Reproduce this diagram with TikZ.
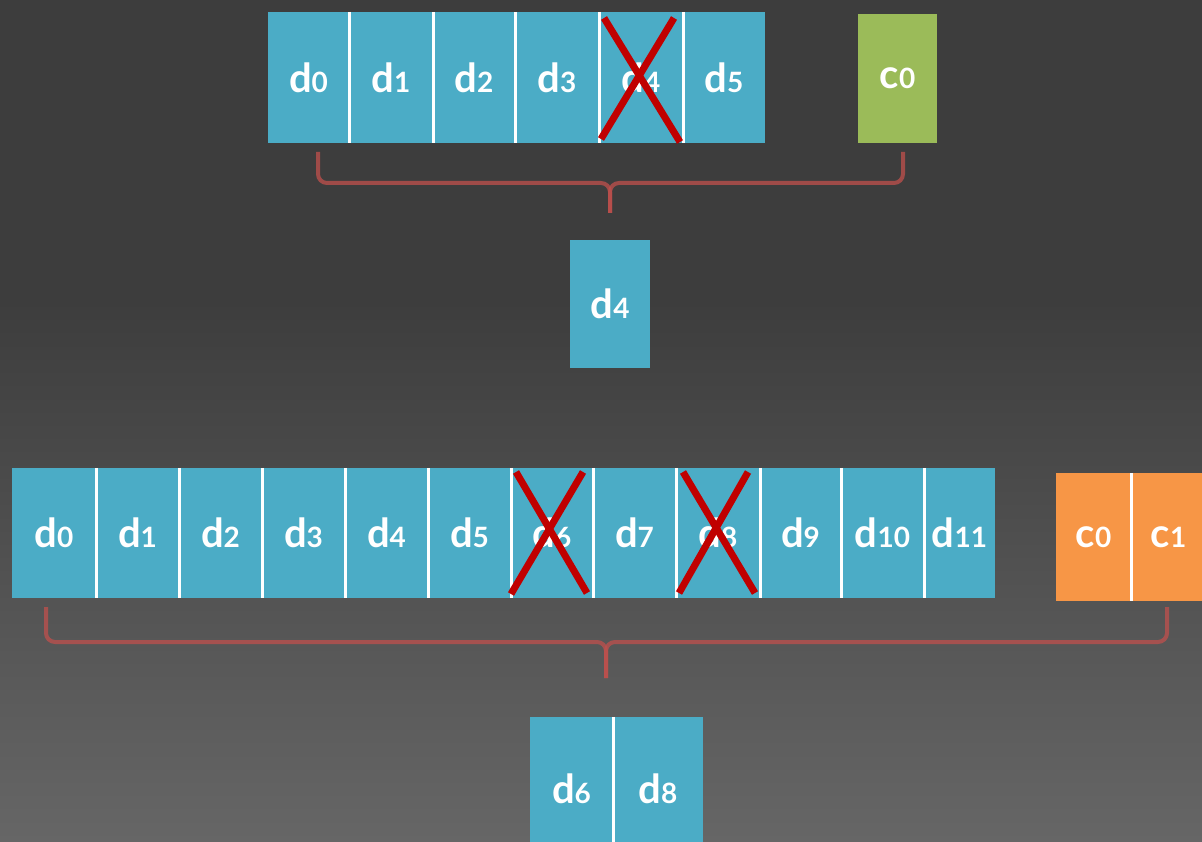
\documentclass[tikz,border=0pt]{standalone}
\usepackage{fontspec}
\newfontfamily\cellfont{Lato}
\usetikzlibrary{calc}

\definecolor{cellblue}{HTML}{4BACC6}
\definecolor{cellgreen}{HTML}{9BBB59}
\definecolor{cellorange}{HTML}{F79646}
\definecolor{crossred}{HTML}{C00000}
\definecolor{bracered}{HTML}{C0504D}
\definecolor{bgtop}{HTML}{3D3D3D}
\definecolor{bgbot}{HTML}{666666}

% a block label: a letter followed by a smaller index on the same baseline
\newcommand{\blk}[2]{#1{\fontsize{28}{28}\selectfont #2}}

\tikzset{
  cell/.style={rectangle, inner sep=0pt, text=white,
    font=\cellfont\bfseries\fontsize{40}{40}\selectfont},
  datacell/.style={cell, fill=cellblue},
  divider/.style={draw=white, line width=3pt},
  crossline/.style={draw=crossred, line width=7pt},
  brace/.style={draw=bracered, draw opacity=0.75, line width=4pt, rounded corners=9pt},
}

\begin{document}
\begin{tikzpicture}[x=1pt, y=-1pt]
  \useasboundingbox (0,0) rectangle (1202,842);
  \clip (0,0) rectangle (1202,842);

  % background
  \fill[bgtop] (0,0) rectangle (1202,842);
  \shade[top color=bgtop, bottom color=bgbot] (0,300) rectangle (1202,842);

  % ---- first stripe: six data blocks and one parity block
  \begin{scope}[every node/.append style={minimum height=131pt}]
    \node[datacell, minimum width=81pt] (t0) at (308.5,77.5) {\blk{d}{0}};
    \node[datacell, minimum width=84pt] (t1) at (391,77.5) {\blk{d}{1}};
    \node[datacell, minimum width=82pt] (t2) at (474,77.5) {\blk{d}{2}};
    \node[datacell, minimum width=84pt] (t3) at (557,77.5) {\blk{d}{3}};
    \node[datacell, minimum width=84pt] (t4) at (641,77.5) {\blk{d}{4}};
    \node[datacell, minimum width=82pt] (t5) at (724,77.5) {\blk{d}{5}};
  \end{scope}
  \foreach \n in {t0,t1,t2,t3,t4}
    \draw[divider] (\n.north east) -- (\n.south east);
  \node[cell, fill=cellgreen, minimum width=79pt, minimum height=129pt] (tc0) at (897.5,78.5) {\blk{c}{0}};

  % lost block
  \draw[crossline] (604,18) -- (680,142);
  \draw[crossline] (674,18) -- (601,139);

  % brace gathering the survivors
  \coordinate (tbl) at (318,152);
  \coordinate (tbr) at (903,152);
  \coordinate (tbm) at (610,183);
  \coordinate (tbt) at (610,213);
  \draw[brace] (tbl) |- (tbm) -- (tbt);
  \draw[brace] (tbr) |- (tbm) -- (tbt);

  % rebuilt block
  \node[datacell, minimum width=80pt, minimum height=128pt] (r4) at (610.25,304) {\blk{d}{4}};

  % ---- second stripe: twelve data blocks and two parity blocks
  \begin{scope}[every node/.append style={minimum height=130pt}]
    \node[datacell, minimum width=84pt] (b0) at (54,533) {\blk{d}{0}};
    \node[datacell, minimum width=83pt] (b1) at (137.5,533) {\blk{d}{1}};
    \node[datacell, minimum width=83pt] (b2) at (220.5,533) {\blk{d}{2}};
    \node[datacell, minimum width=83pt] (b3) at (303.5,533) {\blk{d}{3}};
    \node[datacell, minimum width=83pt] (b4) at (386.5,533) {\blk{d}{4}};
    \node[datacell, minimum width=83pt] (b5) at (469.5,533) {\blk{d}{5}};
    \node[datacell, minimum width=82pt] (b6) at (552,533) {\blk{d}{6}};
    \node[datacell, minimum width=83pt] (b7) at (634.5,533) {\blk{d}{7}};
    \node[datacell, minimum width=84pt] (b8) at (718,533) {\blk{d}{8}};
    \node[datacell, minimum width=81pt] (b9) at (800.5,533) {\blk{d}{9}};
    \node[datacell, minimum width=83pt] (b10) at (882.5,533) {\blk{d}{10}};
    \node[datacell, minimum width=71pt] (b11) at (959.5,533) {\blk{d}{11}};
  \end{scope}
  \foreach \n in {b0,b1,b2,b3,b4,b5,b6,b7,b8,b9,b10}
    \draw[divider] (\n.north east) -- (\n.south east);

  \begin{scope}[every node/.append style={minimum height=128pt, minimum width=75pt}]
    \node[cell, fill=cellorange] (bc0) at (1093.5,537) {\blk{c}{0}};
    \node[cell, fill=cellorange] (bc1) at (1168.5,537) {\blk{c}{1}};
  \end{scope}
  \draw[divider] (bc0.north east) -- (bc0.south east);

  % lost blocks
  \draw[crossline] (516,472) -- (587,593);
  \draw[crossline] (583,472) -- (511,594);
  \draw[crossline] (683,472) -- (755,593);
  \draw[crossline] (748,472) -- (679,593);

  % brace gathering the survivors
  \coordinate (bbl) at (46,607);
  \coordinate (bbr) at (1167,607);
  \coordinate (bbm) at (606,642);
  \coordinate (bbt) at (606,678);
  \draw[brace] (bbl) |- (bbm) -- (bbt);
  \draw[brace] (bbr) |- (bbm) -- (bbt);

  % rebuilt blocks
  \begin{scope}[every node/.append style={minimum height=143pt}]
    \node[datacell, minimum width=83pt] (r6) at (571.5,788.5) {\blk{d}{6}};
    \node[datacell, minimum width=90pt] (r8) at (658,788.5) {\blk{d}{8}};
  \end{scope}
  \draw[divider] (r6.north east) -- (r6.south east);
\end{tikzpicture}
\end{document}
